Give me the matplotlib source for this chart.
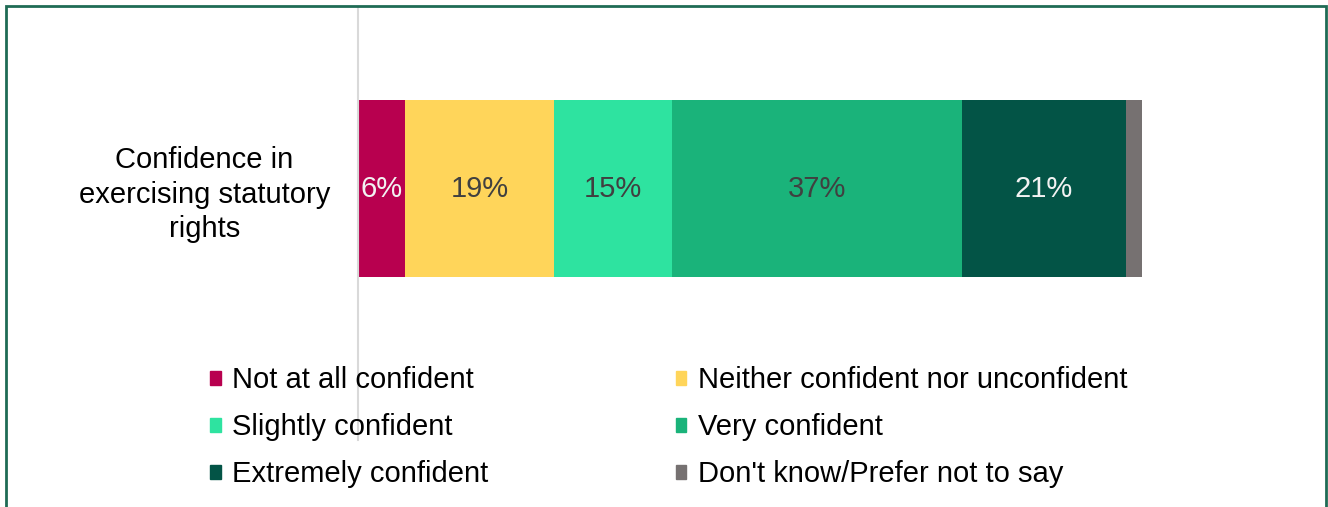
import matplotlib.pyplot as plt
from matplotlib.patches import Patch, Rectangle

plt.rcParams['font.family'] = ['Liberation Sans', 'DejaVu Sans']

category = 'Confidence in\nexercising statutory\nrights'
labels = ['Not at all confident', 'Neither confident nor unconfident',
          'Slightly confident', 'Very confident',
          'Extremely confident', "Don't know/Prefer not to say"]
values = [6, 19, 15, 37, 21, 2]
colors = ['#B8004F', '#FFD55A', '#2EE3A0', '#1AB37A', '#035446', '#767171']
text_colors = ['#F2F2F2', '#404040', '#404040', '#404040', '#F2F2F2', None]

fs = 21

fig = plt.figure(figsize=(13.28, 5.07), dpi=100)
ax = fig.add_axes([358/1328, 1 - 440/507, (1142 - 358)/1328, 432/507])

left = 0
for lab, v, c, tc in zip(labels, values, colors, text_colors):
    ax.barh(0, v, left=left, height=0.41, color=c, label=lab)
    if tc is not None:
        ax.text(left + v/2, 0, f'{v}%', ha='center', va='center',
                fontsize=fs, color=tc)
    left += v

ax.set_xlim(0, 100)
ax.set_ylim(-0.582, 0.418)
ax.set_xticks([])
ax.set_yticks([0], labels=[category])
ax.tick_params(axis='y', length=0, pad=20, labelsize=fs)
for t in ax.get_yticklabels():
    t.set_multialignment('center')
    t.set_linespacing(1.29)
for s in ['top', 'right', 'bottom']:
    ax.spines[s].set_visible(False)
ax.spines['left'].set_color('#D9D9D9')
ax.spines['left'].set_linewidth(1.5)

# legend is filled row by row: reorder for matplotlib's column-wise fill
order = [0, 2, 4, 1, 3, 5]
handles = [Patch(color=colors[i]) for i in order]
fig.legend(handles, [labels[i] for i in order], ncol=2, frameon=False,
           fontsize=fs, loc='upper left', bbox_to_anchor=(210/1328, 1 - 366/507),
           handlelength=0.36, handleheight=0.36, handletextpad=0.38,
           columnspacing=6.45, labelspacing=0.66, borderaxespad=0, borderpad=0)

# outer frame
fig.patches.append(Rectangle((6/1328, -0.05), 1320/1328, 1 - 6/507 + 0.05,
                             transform=fig.transFigure, fill=False,
                             edgecolor='#1F6B55', linewidth=2))

fig.savefig('out.png', dpi=100)
